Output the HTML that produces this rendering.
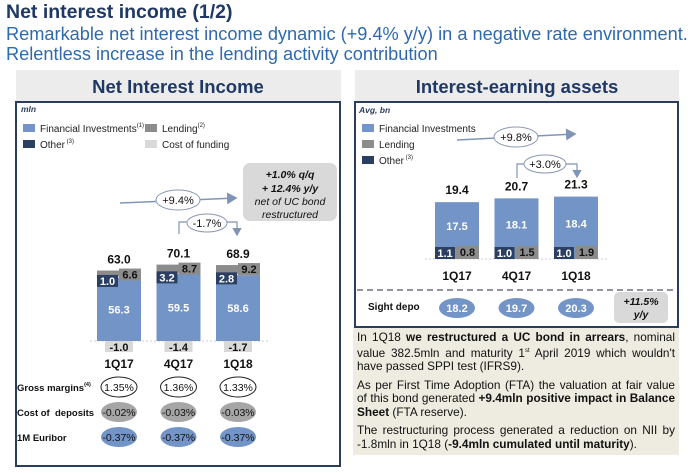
<!DOCTYPE html>
<html><head><meta charset="utf-8"><style>
body{margin:0;width:695px;height:473px;background:#fff;font-family:"Liberation Sans",Arial,sans-serif;position:relative;overflow:hidden}
.abs{position:absolute}
.note{position:absolute;left:353px;top:327px;width:318px;height:121px;background:#eeebe0;padding:4px 4px 3px 4px;font-size:11.8px;line-height:13.6px;color:#111;text-align:justify}
.note p{margin:0 0 5px 0}
</style></head><body>
<div class="abs" style="left:6px;top:1px;font-size:19.5px;font-weight:bold;color:#1f3864">Net interest income (1/2)</div>
<div class="abs" style="left:6px;top:24px;font-size:18.2px;color:#2e6ab0;line-height:20px;white-space:nowrap">Remarkable net interest income dynamic (+9.4% y/y) in a negative rate environment.<br>Relentless increase in the lending activity contribution</div>

<div class="note">
<p>In 1Q18 <b>we restructured a UC bond in arrears</b>, nominal value 382.5mln and maturity 1<sup style="font-size:6px">st</sup> April 2019 which wouldn't have passed SPPI test (IFRS9).</p>
<p>As per First Time Adoption (FTA) the valuation at fair value of this bond generated <b>+9.4mln positive impact in Balance Sheet</b> (FTA reserve).</p>
<p>The restructuring process generated a reduction on NII by -1.8mln in 1Q18 (<b>-9.4mln cumulated until maturity</b>).</p>
</div>

<svg class="abs" style="left:0;top:0" width="695" height="473" id="svg" font-family="Liberation Sans, Arial, sans-serif">
<defs><marker id="ar" markerWidth="8" markerHeight="8" refX="6" refY="4" orient="auto"><path d="M0,0 L7,4 L0,8 z" fill="#7f95b5"/></marker></defs>
<rect x="16" y="70" width="325" height="31" fill="#ececec"/>
<text x="178" y="93" text-anchor="middle" font-size="18.5" font-weight="bold" fill="#1f3864">Net Interest Income</text>
<rect x="16" y="102" width="324" height="364" fill="none" stroke="#2a3d5c" stroke-width="2"/>
<text x="21" y="112" font-size="8.5" font-weight="bold" font-style="italic" fill="#2a3d5c">mln</text>
<g font-size="10" fill="#222">
<rect x="23" y="124" width="12" height="8" fill="#7394c6"/><text x="40" y="132">Financial Investments<tspan font-size="6" dy="-5">(1)</tspan></text>
<rect x="145" y="124" width="12" height="8" fill="#8c8c8c"/><text x="162" y="132">Lending<tspan font-size="6" dy="-5">(2)</tspan></text>
<rect x="23" y="140" width="12" height="8" fill="#2b3f63"/><text x="40" y="148">Other<tspan font-size="6" dy="-5"> (3)</tspan></text>
<rect x="145" y="140" width="12" height="8" fill="#d9d9d9"/><text x="162" y="148">Cost of funding</text>
</g>
<rect x="243" y="163" width="94" height="58" rx="7" fill="#d9d9d9"/>
<g font-size="10.5" font-weight="bold" font-style="italic" text-anchor="middle" fill="#111">
<text x="290" y="178">+1.0% q/q</text><text x="290" y="192">+ 12.4% y/y</text>
<text x="290" y="205" font-weight="normal">net of UC bond</text><text x="290" y="218" font-weight="normal">restructured</text></g>
<line x1="120" y1="203" x2="236" y2="198" stroke="#7f95b5" stroke-width="1.5" marker-end="url(#ar)"/>
<ellipse cx="178" cy="200" rx="22" ry="10" fill="#fff" stroke="#8a9ab5"/>
<text x="178" y="204" text-anchor="middle" font-size="11" fill="#111">+9.4%</text>
<polyline points="179,234 179,222 237,222 237,235" fill="none" stroke="#7f95b5" stroke-width="1.2" marker-end="url(#ar)"/>
<ellipse cx="207" cy="223" rx="20" ry="9" fill="#fff" stroke="#8a9ab5"/>
<text x="207" y="227" text-anchor="middle" font-size="11" fill="#111">-1.7%</text>
<line x1="90" y1="341" x2="268" y2="341" stroke="#ccc" stroke-dasharray="2,2"/>
<g id="nii"></g>
<g font-size="9.5" font-weight="bold" fill="#111">
<text x="17" y="391">Gross margins<tspan font-size="5.5" dy="-5">(4)</tspan></text>
<text x="17" y="416">Cost of&#160; deposits</text>
<text x="17" y="441">1M Euribor</text></g>
<g id="kpi"></g>
<rect x="355" y="70" width="324" height="31" fill="#ececec"/>
<text x="517" y="93" text-anchor="middle" font-size="18.5" font-weight="bold" fill="#1f3864">Interest-earning assets</text>
<rect x="355" y="102" width="323" height="225" fill="none" stroke="#2a3d5c" stroke-width="2"/>
<text x="359" y="113" font-size="8.5" font-weight="bold" font-style="italic" fill="#2a3d5c">Avg, bn</text>
<g font-size="10" fill="#222">
<rect x="362" y="124" width="12" height="8" fill="#7394c6"/><text x="379" y="132">Financial Investments</text>
<rect x="362" y="140" width="12" height="8" fill="#8c8c8c"/><text x="379" y="148">Lending</text>
<rect x="362" y="156" width="12" height="8" fill="#2b3f63"/><text x="379" y="164">Other<tspan font-size="6" dy="-5"> (3)</tspan></text>
</g>
<line x1="457" y1="140" x2="575" y2="134" stroke="#7f95b5" stroke-width="1.5" marker-end="url(#ar)"/>
<ellipse cx="516" cy="137" rx="22" ry="10" fill="#fff" stroke="#8a9ab5"/>
<text x="516" y="141" text-anchor="middle" font-size="11" fill="#111">+9.8%</text>
<polyline points="517,178 517,164 577,164 577,177" fill="none" stroke="#7f95b5" stroke-width="1.2" marker-end="url(#ar)"/>
<ellipse cx="545" cy="164" rx="21" ry="9" fill="#fff" stroke="#8a9ab5"/>
<text x="545" y="168" text-anchor="middle" font-size="11" fill="#111">+3.0%</text>
<line x1="425" y1="259" x2="608" y2="259" stroke="#ccc" stroke-dasharray="2,2"/>
<g id="iea"></g>
<line x1="357" y1="290" x2="677" y2="290" stroke="#556" stroke-width="1.2" stroke-dasharray="6,4"/>
<text x="368" y="310" font-size="10" font-weight="bold" fill="#111">Sight depo</text>
<rect x="614" y="292" width="54" height="31" rx="5" fill="#d9d9d9"/>
<text x="641" y="305" text-anchor="middle" font-size="10.5" font-weight="bold" font-style="italic" fill="#111">+11.5%</text>
<text x="641" y="318" text-anchor="middle" font-size="10.5" font-weight="bold" font-style="italic" fill="#111">y/y</text>
<g id="depo"></g>
</svg>
<script>
const quarters=["1Q17","4Q17","1Q18"];
const niiFin=[56.3,59.5,58.6];
const niiLending=[6.6,8.7,9.2];
const niiOther=[1.0,3.2,2.8];
const niiFunding=[-1.0,-1.4,-1.7];
const niiTotal=[63.0,70.1,68.9];
const grossMargins=["1.35%","1.36%","1.33%"];
const costDeposits=["-0.02%","-0.03%","-0.03%"];
const euribor=["-0.37%","-0.37%","-0.37%"];
const ieaFin=[17.5,18.1,18.4];
const ieaLending=[0.8,1.5,1.9];
const ieaOther=[1.1,1.0,1.0];
const ieaTotal=[19.4,20.7,21.3];
const sightDepo=[18.2,19.7,20.3];

const NS="http://www.w3.org/2000/svg";
function mk(p,tag,a,txt){const e=document.createElementNS(NS,tag);for(const k in a)e.setAttribute(k,a[k]);if(txt!==undefined)e.textContent=txt;p.appendChild(e);return e;}
const f1=v=>v.toFixed(1);
const nii=document.getElementById('nii');
const nX=i=>97+i*59.5, nW=44, nBase=341, nS=1.12;
const nY=v=>nBase-v*nS;
quarters.forEach((q,i)=>{
  const x=nX(i);
  const fin=mk(nii,'rect',{x:x,y:nY(niiFin[i]),width:nW,height:niiFin[i]*nS,fill:'#7394c6'});
  
  
  mk(nii,'text',{x:x+nW/2,y:nY(niiFin[i]/2)+4,'text-anchor':'middle','font-size':11,'font-weight':'bold',fill:'#fff'},f1(niiFin[i]));
  const lt=nY(niiFin[i]+niiLending[i]);
  const lb=mk(nii,'rect',{x:x,y:lt,width:nW,height:niiLending[i]*nS,fill:'#8c8c8c'});
  
  
  mk(nii,'line',{x1:x,x2:x+nW,y1:nY(niiFin[i])-1,y2:nY(niiFin[i])-1,stroke:'#fff','stroke-width':1});
  mk(nii,'rect',{x:x+22,y:lt-2,width:22,height:12,fill:'#8c8c8c'});
  mk(nii,'text',{x:x+33,y:lt+8,'text-anchor':'middle','font-size':11,'font-weight':'bold',fill:'#111'},f1(niiLending[i]));
  const ob=mk(nii,'rect',{x:x,y:nY(niiFin[i])-3,width:21,height:12,fill:'#2b3f63'});
  
  
  mk(nii,'text',{x:x+10.5,y:nY(niiFin[i])+7,'text-anchor':'middle','font-size':11,'font-weight':'bold',fill:'#fff'},f1(niiOther[i]));
  const fb=mk(nii,'rect',{x:x+8,y:nBase,width:28,height:Math.max(11,-niiFunding[i]*nS),fill:'#d9d9d9'});
  
  
  mk(nii,'text',{x:x+nW/2,y:nBase+10,'text-anchor':'middle','font-size':11,'font-weight':'bold',fill:'#111'},f1(niiFunding[i]));
  const tl=mk(nii,'text',{x:x+nW/2,y:lt-7,'text-anchor':'middle','font-size':12,'font-weight':'bold',fill:'#111'},f1(niiTotal[i]));
  
  
  mk(nii,'text',{x:x+nW/2,y:368,'text-anchor':'middle','font-size':12,'font-weight':'bold',fill:'#111'},q);
});
const kpi=document.getElementById('kpi');
[[grossMargins,'#fff','#222',387],[costDeposits,'#a6a6a6','none',412],[euribor,'#7394c6','none',437]].forEach(([arr,fill,st,y])=>{
  arr.forEach((v,i)=>{
    const cx=nX(i)+nW/2;
    const e=mk(kpi,'ellipse',{cx:cx,cy:y,rx:18,ry:10,fill:fill,stroke:st});
    
    
    mk(kpi,'text',{x:cx,y:y+4,'text-anchor':'middle','font-size':10.5,fill:'#111'},v);
  });
});
const iea=document.getElementById('iea');
const iX=i=>435+i*59.5, iW=44, iBase=259, iS=2.93;
const iY=v=>iBase-v*iS;
quarters.forEach((q,i)=>{
  const x=iX(i);
  const b=mk(iea,'rect',{x:x,y:iY(ieaTotal[i]),width:iW,height:ieaTotal[i]*iS,fill:'#7394c6'});
  
  
  mk(iea,'text',{x:x+iW/2,y:iY(ieaTotal[i]/2+1.5)+4,'text-anchor':'middle','font-size':11,'font-weight':'bold',fill:'#fff'},f1(ieaFin[i]));
  const o=mk(iea,'rect',{x:x,y:iBase-12,width:20,height:12,fill:'#2b3f63'});
  
  
  mk(iea,'text',{x:x+10,y:iBase-2,'text-anchor':'middle','font-size':11,'font-weight':'bold',fill:'#fff'},f1(ieaOther[i]));
  const l=mk(iea,'rect',{x:x+21,y:iBase-13,width:23,height:13,fill:'#8c8c8c'});
  
  
  mk(iea,'text',{x:x+32.5,y:iBase-3,'text-anchor':'middle','font-size':11,'font-weight':'bold',fill:'#111'},f1(ieaLending[i]));
  const t=mk(iea,'text',{x:x+iW/2,y:iY(ieaTotal[i])-8,'text-anchor':'middle','font-size':12,'font-weight':'bold',fill:'#111'},f1(ieaTotal[i]));
  
  
  mk(iea,'text',{x:x+iW/2,y:280,'text-anchor':'middle','font-size':12,'font-weight':'bold',fill:'#111'},q);
});
const depo=document.getElementById('depo');
sightDepo.forEach((v,i)=>{
  const cx=iX(i)+iW/2;
  const e=mk(depo,'ellipse',{cx:cx,cy:308,rx:18,ry:10,fill:'#7394c6'});
  
  
  mk(depo,'text',{x:cx,y:312,'text-anchor':'middle','font-size':11,'font-weight':'bold',fill:'#fff'},f1(v));
});
</script>
</body></html>
